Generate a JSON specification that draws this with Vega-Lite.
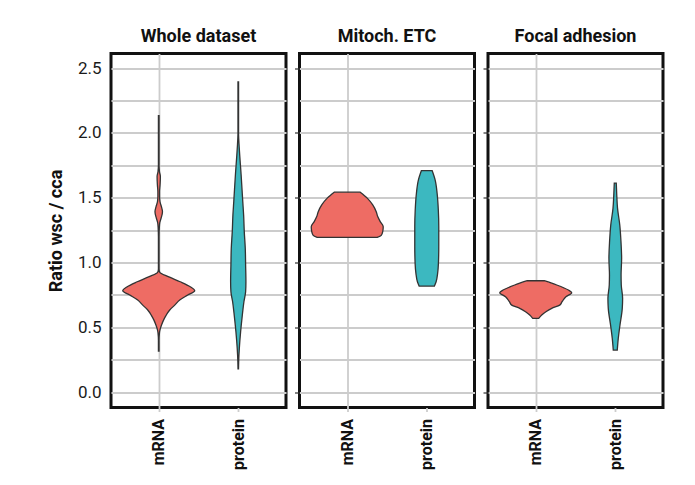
{
  "$schema": "https://vega.github.io/schema/vega-lite/v6.json",
  "background": "white",
  "padding": {"left": 45, "top": 25.5, "right": 5, "bottom": 5},
  "datasets": {
    "violin": [
      {"p": "Whole dataset", "t": "mRNA", "v": 0.318, "w": 0.6},
      {"p": "Whole dataset", "t": "mRNA", "v": 0.40, "w": 0.6},
      {"p": "Whole dataset", "t": "mRNA", "v": 0.46, "w": 1.5},
      {"p": "Whole dataset", "t": "mRNA", "v": 0.479, "w": 2.4},
      {"p": "Whole dataset", "t": "mRNA", "v": 0.518, "w": 5.6},
      {"p": "Whole dataset", "t": "mRNA", "v": 0.556, "w": 9.6},
      {"p": "Whole dataset", "t": "mRNA", "v": 0.595, "w": 15},
      {"p": "Whole dataset", "t": "mRNA", "v": 0.634, "w": 22},
      {"p": "Whole dataset", "t": "mRNA", "v": 0.672, "w": 32},
      {"p": "Whole dataset", "t": "mRNA", "v": 0.711, "w": 42},
      {"p": "Whole dataset", "t": "mRNA", "v": 0.75, "w": 58},
      {"p": "Whole dataset", "t": "mRNA", "v": 0.783, "w": 72},
      {"p": "Whole dataset", "t": "mRNA", "v": 0.814, "w": 63},
      {"p": "Whole dataset", "t": "mRNA", "v": 0.852, "w": 43},
      {"p": "Whole dataset", "t": "mRNA", "v": 0.891, "w": 19},
      {"p": "Whole dataset", "t": "mRNA", "v": 0.925, "w": 2},
      {"p": "Whole dataset", "t": "mRNA", "v": 0.95, "w": 0.6},
      {"p": "Whole dataset", "t": "mRNA", "v": 1.20, "w": 0.6},
      {"p": "Whole dataset", "t": "mRNA", "v": 1.27, "w": 1.2},
      {"p": "Whole dataset", "t": "mRNA", "v": 1.31, "w": 2.2},
      {"p": "Whole dataset", "t": "mRNA", "v": 1.342, "w": 4.7},
      {"p": "Whole dataset", "t": "mRNA", "v": 1.393, "w": 7.5},
      {"p": "Whole dataset", "t": "mRNA", "v": 1.43, "w": 5.5},
      {"p": "Whole dataset", "t": "mRNA", "v": 1.47, "w": 2.5},
      {"p": "Whole dataset", "t": "mRNA", "v": 1.51, "w": 1.7},
      {"p": "Whole dataset", "t": "mRNA", "v": 1.548, "w": 1.7},
      {"p": "Whole dataset", "t": "mRNA", "v": 1.6, "w": 2.7},
      {"p": "Whole dataset", "t": "mRNA", "v": 1.664, "w": 3.3},
      {"p": "Whole dataset", "t": "mRNA", "v": 1.70, "w": 1.5},
      {"p": "Whole dataset", "t": "mRNA", "v": 1.75, "w": 0.6},
      {"p": "Whole dataset", "t": "mRNA", "v": 2.133, "w": 0.6},
      {"p": "Whole dataset", "t": "protein", "v": 0.18, "w": 0.5},
      {"p": "Whole dataset", "t": "protein", "v": 0.234, "w": 0.8},
      {"p": "Whole dataset", "t": "protein", "v": 0.338, "w": 2.1},
      {"p": "Whole dataset", "t": "protein", "v": 0.466, "w": 4.7},
      {"p": "Whole dataset", "t": "protein", "v": 0.595, "w": 8.1},
      {"p": "Whole dataset", "t": "protein", "v": 0.698, "w": 11.3},
      {"p": "Whole dataset", "t": "protein", "v": 0.775, "w": 14.7},
      {"p": "Whole dataset", "t": "protein", "v": 0.852, "w": 15.3},
      {"p": "Whole dataset", "t": "protein", "v": 0.981, "w": 14.7},
      {"p": "Whole dataset", "t": "protein", "v": 1.11, "w": 14},
      {"p": "Whole dataset", "t": "protein", "v": 1.239, "w": 12},
      {"p": "Whole dataset", "t": "protein", "v": 1.368, "w": 10.7},
      {"p": "Whole dataset", "t": "protein", "v": 1.47, "w": 9},
      {"p": "Whole dataset", "t": "protein", "v": 1.677, "w": 5.7},
      {"p": "Whole dataset", "t": "protein", "v": 1.883, "w": 2},
      {"p": "Whole dataset", "t": "protein", "v": 2.0, "w": 0.6},
      {"p": "Whole dataset", "t": "protein", "v": 2.393, "w": 0.6},
      {"p": "Mitoch. ETC", "t": "mRNA", "v": 1.195, "w": 60},
      {"p": "Mitoch. ETC", "t": "mRNA", "v": 1.21, "w": 68},
      {"p": "Mitoch. ETC", "t": "mRNA", "v": 1.239, "w": 71},
      {"p": "Mitoch. ETC", "t": "mRNA", "v": 1.277, "w": 72},
      {"p": "Mitoch. ETC", "t": "mRNA", "v": 1.316, "w": 66},
      {"p": "Mitoch. ETC", "t": "mRNA", "v": 1.355, "w": 61},
      {"p": "Mitoch. ETC", "t": "mRNA", "v": 1.393, "w": 58},
      {"p": "Mitoch. ETC", "t": "mRNA", "v": 1.445, "w": 51},
      {"p": "Mitoch. ETC", "t": "mRNA", "v": 1.497, "w": 40},
      {"p": "Mitoch. ETC", "t": "mRNA", "v": 1.543, "w": 26},
      {"p": "Mitoch. ETC", "t": "protein", "v": 0.819, "w": 15.3},
      {"p": "Mitoch. ETC", "t": "protein", "v": 0.852, "w": 18.7},
      {"p": "Mitoch. ETC", "t": "protein", "v": 0.917, "w": 21.7},
      {"p": "Mitoch. ETC", "t": "protein", "v": 0.994, "w": 23.3},
      {"p": "Mitoch. ETC", "t": "protein", "v": 1.123, "w": 24},
      {"p": "Mitoch. ETC", "t": "protein", "v": 1.277, "w": 24},
      {"p": "Mitoch. ETC", "t": "protein", "v": 1.406, "w": 23.1},
      {"p": "Mitoch. ETC", "t": "protein", "v": 1.535, "w": 20.7},
      {"p": "Mitoch. ETC", "t": "protein", "v": 1.638, "w": 16.7},
      {"p": "Mitoch. ETC", "t": "protein", "v": 1.71, "w": 10.7},
      {"p": "Focal adhesion", "t": "mRNA", "v": 0.57, "w": 6},
      {"p": "Focal adhesion", "t": "mRNA", "v": 0.595, "w": 12},
      {"p": "Focal adhesion", "t": "mRNA", "v": 0.621, "w": 20.4},
      {"p": "Focal adhesion", "t": "mRNA", "v": 0.647, "w": 32},
      {"p": "Focal adhesion", "t": "mRNA", "v": 0.672, "w": 48},
      {"p": "Focal adhesion", "t": "mRNA", "v": 0.698, "w": 52.7},
      {"p": "Focal adhesion", "t": "mRNA", "v": 0.737, "w": 60.4},
      {"p": "Focal adhesion", "t": "mRNA", "v": 0.768, "w": 72},
      {"p": "Focal adhesion", "t": "mRNA", "v": 0.788, "w": 65.3},
      {"p": "Focal adhesion", "t": "mRNA", "v": 0.827, "w": 42},
      {"p": "Focal adhesion", "t": "mRNA", "v": 0.86, "w": 17},
      {"p": "Focal adhesion", "t": "protein", "v": 0.325, "w": 4},
      {"p": "Focal adhesion", "t": "protein", "v": 0.415, "w": 6},
      {"p": "Focal adhesion", "t": "protein", "v": 0.518, "w": 9.4},
      {"p": "Focal adhesion", "t": "protein", "v": 0.647, "w": 14},
      {"p": "Focal adhesion", "t": "protein", "v": 0.724, "w": 14.7},
      {"p": "Focal adhesion", "t": "protein", "v": 0.827, "w": 12},
      {"p": "Focal adhesion", "t": "protein", "v": 0.904, "w": 11.6},
      {"p": "Focal adhesion", "t": "protein", "v": 1.033, "w": 12.7},
      {"p": "Focal adhesion", "t": "protein", "v": 1.162, "w": 11.4},
      {"p": "Focal adhesion", "t": "protein", "v": 1.29, "w": 9},
      {"p": "Focal adhesion", "t": "protein", "v": 1.42, "w": 4.5},
      {"p": "Focal adhesion", "t": "protein", "v": 1.52, "w": 3},
      {"p": "Focal adhesion", "t": "protein", "v": 1.613, "w": 2}
    ]
  },
  "spacing": 3.5,
  "hconcat": [
    {
      "title": "Whole dataset",
      "width": 175,
      "height": 354,
      "data": {"name": "violin"},
      "transform": [{"filter": "datum.p === 'Whole dataset'"}],
      "encoding": {
        "y": {"field": "v", "type": "quantitative", "scale": {"domain": [-0.118, 2.613], "nice": false, "zero": false},
          "axis": {"values": [0, 0.25, 0.5, 0.75, 1, 1.25, 1.5, 1.75, 2, 2.25, 2.5], "format": ".1f",
            "labelExpr": "(datum.value*4) % 2 === 0 ? datum.label : ''",
            "ticks": false, "tickOpacity": 0, "labelPadding": 10, "title": "Ratio wsc / cca", "titleFontSize": 18, "titleFontWeight": "bold", "titlePadding": 12}}
      },
      "layer": [
        {
          "transform": [{"filter": "datum.t === 'mRNA'"}],
          "mark": {"type": "area", "orient": "horizontal", "fill": "#EE6C64", "stroke": "#333333", "strokeWidth": 1.3, "interpolate": "monotone"},
          "encoding": {
            "x": {"field": "w", "type": "quantitative", "stack": "center", "scale": {"domain": [-11.73, 163.27], "nice": false, "zero": false},
              "axis": {"values": [36], "labelExpr": "'mRNA'", "title": null}}
          }
        },
        {
          "transform": [{"filter": "datum.t === 'protein'"}],
          "mark": {"type": "area", "orient": "horizontal", "fill": "#3CB8C0", "stroke": "#333333", "strokeWidth": 1.3, "interpolate": "monotone"},
          "encoding": {
            "x": {"field": "w", "type": "quantitative", "stack": "center", "scale": {"domain": [-119.62, 55.38], "nice": false, "zero": false},
              "axis": {"values": [7.65], "labelExpr": "'protein'", "title": null, "orient": "bottom"}}
          }
        }
      ],
      "resolve": {"scale": {"x": "independent"}, "axis": {"x": "independent"}}
    },
    {
      "title": "Mitoch. ETC",
      "width": 175,
      "height": 354,
      "data": {"name": "violin"},
      "transform": [{"filter": "datum.p === 'Mitoch. ETC'"}],
      "encoding": {
        "y": {"field": "v", "type": "quantitative", "scale": {"domain": [-0.118, 2.613], "nice": false, "zero": false},
          "axis": {"values": [0, 0.25, 0.5, 0.75, 1, 1.25, 1.5, 1.75, 2, 2.25, 2.5], "labels": false, "title": null,
            "tickOpacity": {"condition": {"test": "(datum.value*4) % 2 === 0", "value": 1}, "value": 0}}}
      },
      "layer": [
        {
          "transform": [{"filter": "datum.t === 'mRNA'"}],
          "mark": {"type": "area", "orient": "horizontal", "fill": "#EE6C64", "stroke": "#333333", "strokeWidth": 1.3, "interpolate": "monotone"},
          "encoding": {
            "x": {"field": "w", "type": "quantitative", "stack": "center", "scale": {"domain": [-11.73, 163.27], "nice": false, "zero": false},
              "axis": {"values": [36], "labelExpr": "'mRNA'", "title": null}}
          }
        },
        {
          "transform": [{"filter": "datum.t === 'protein'"}],
          "mark": {"type": "area", "orient": "horizontal", "fill": "#3CB8C0", "stroke": "#333333", "strokeWidth": 1.3, "interpolate": "monotone"},
          "encoding": {
            "x": {"field": "w", "type": "quantitative", "stack": "center", "scale": {"domain": [-115.27, 59.73], "nice": false, "zero": false},
              "axis": {"values": [12], "labelExpr": "'protein'", "title": null, "orient": "bottom"}}
          }
        }
      ],
      "resolve": {"scale": {"x": "independent"}, "axis": {"x": "independent"}}
    },
    {
      "title": "Focal adhesion",
      "width": 175,
      "height": 354,
      "data": {"name": "violin"},
      "transform": [{"filter": "datum.p === 'Focal adhesion'"}],
      "encoding": {
        "y": {"field": "v", "type": "quantitative", "scale": {"domain": [-0.118, 2.613], "nice": false, "zero": false},
          "axis": {"values": [0, 0.25, 0.5, 0.75, 1, 1.25, 1.5, 1.75, 2, 2.25, 2.5], "labels": false, "title": null,
            "tickOpacity": {"condition": {"test": "(datum.value*4) % 2 === 0", "value": 1}, "value": 0}}}
      },
      "layer": [
        {
          "transform": [{"filter": "datum.t === 'mRNA'"}],
          "mark": {"type": "area", "orient": "horizontal", "fill": "#EE6C64", "stroke": "#333333", "strokeWidth": 1.3, "interpolate": "monotone"},
          "encoding": {
            "x": {"field": "w", "type": "quantitative", "stack": "center", "scale": {"domain": [-11.73, 163.27], "nice": false, "zero": false},
              "axis": {"values": [36], "labelExpr": "'mRNA'", "title": null}}
          }
        },
        {
          "transform": [{"filter": "datum.t === 'protein'"}],
          "mark": {"type": "area", "orient": "horizontal", "fill": "#3CB8C0", "stroke": "#333333", "strokeWidth": 1.3, "interpolate": "monotone"},
          "encoding": {
            "x": {"field": "w", "type": "quantitative", "stack": "center", "scale": {"domain": [-119.92, 55.08], "nice": false, "zero": false},
              "axis": {"values": [7.35], "labelExpr": "'protein'", "title": null, "orient": "bottom"}}
          }
        }
      ],
      "resolve": {"scale": {"x": "independent"}, "axis": {"x": "independent"}}
    }
  ],
  "resolve": {"scale": {"x": "independent", "y": "independent"}, "axis": {"y": "independent"}},
  "config": {
    "font": "Roboto",
    "view": {"stroke": "#111111", "strokeWidth": 3},
    "title": {"fontSize": 18, "fontWeight": "bold", "color": "#111111", "offset": 8, "anchor": "middle"},
    "axis": {"grid": true, "gridColor": "#cccccc", "gridWidth": 1.8, "domain": false, "labelColor": "#1a1a1a", "titleColor": "#111111", "tickColor": "#333333", "tickSize": 5, "tickWidth": 1.2},
    "axisY": {"labelFontSize": 17, "labelPadding": 4},
    "axisX": {"labelAngle": -90, "labelFontSize": 16, "labelFontWeight": "bold", "labelPadding": 7, "labelColor": "#111111", "tickColor": "#cccccc", "tickWidth": 1.8, "tickSize": 4}
  }
}
